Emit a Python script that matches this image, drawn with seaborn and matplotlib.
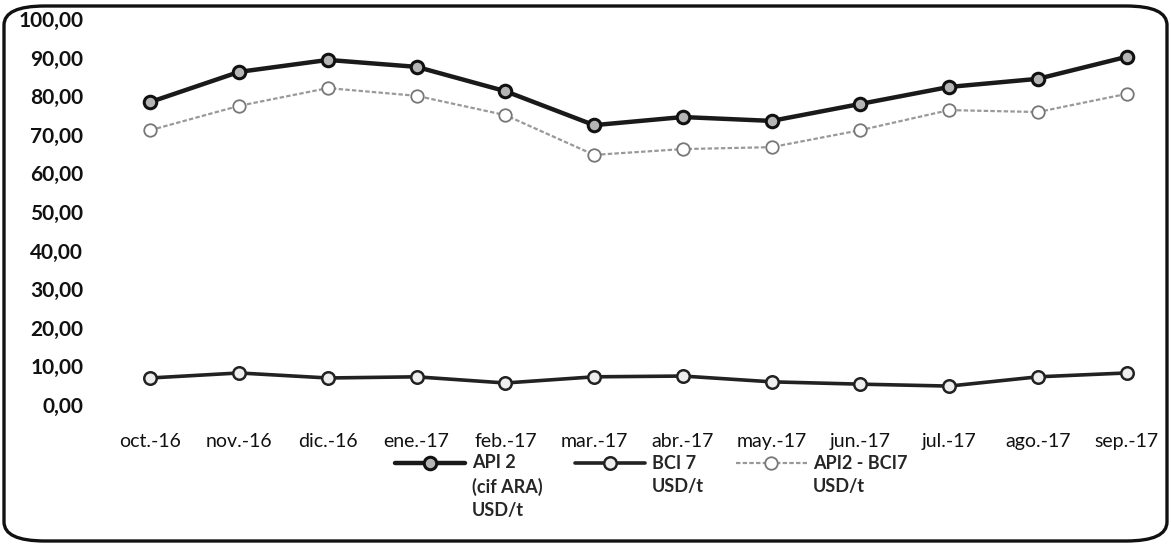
import numpy as np
import pandas as pd
import matplotlib
matplotlib.use("Agg")
import matplotlib.pyplot as plt
import seaborn as sns
from matplotlib.patches import FancyBboxPatch
from matplotlib.ticker import FuncFormatter

months = ["oct.-16", "nov.-16", "dic.-16", "ene.-17", "feb.-17", "mar.-17",
          "abr.-17", "may.-17", "jun.-17", "jul.-17", "ago.-17", "sep.-17"]
api2 = [78.5, 86.3, 89.4, 87.6, 81.3, 72.5, 74.6, 73.6, 78.0, 82.4, 84.5, 90.2]
bci7 = [7.0, 8.3, 7.0, 7.3, 5.7, 7.3, 7.5, 6.0, 5.4, 4.9, 7.3, 8.3]
spread = [71.2, 77.5, 82.1, 80.1, 75.1, 64.8, 66.3, 66.8, 71.2, 76.4, 75.9, 80.6]
labels = ["API 2\n(cif ARA)\nUSD/t", "BCI 7\nUSD/t", "API2 - BCI7\nUSD/t"]
yticks = [0, 10, 20, 30, 40, 50, 60, 70, 80, 90, 100]

sns.set_theme(style="white")
plt.rcParams['font.family'] = ['Lato', 'DejaVu Sans']

fig = plt.figure(figsize=(11.71, 5.45), dpi=100)
ax = fig.add_axes([106/1171, 1-405/545, 1-106/1171, (405-19)/545])

df = pd.DataFrame({"mes": months, "v": api2})
sns.lineplot(data=df, x="mes", y="v", ax=ax, sort=False, color="#1a1a1a", lw=3.2,
             marker="o", markersize=9, markerfacecolor="#b5b5b5",
             markeredgecolor="#111111", markeredgewidth=2.2, label=labels[0])
df = pd.DataFrame({"mes": months, "v": bci7})
sns.lineplot(data=df, x="mes", y="v", ax=ax, sort=False, color="#222222", lw=2.6,
             marker="o", markersize=9, markerfacecolor="#eeeeee",
             markeredgecolor="#222222", markeredgewidth=1.8, label=labels[1])
df = pd.DataFrame({"mes": months, "v": spread})
sns.lineplot(data=df, x="mes", y="v", ax=ax, sort=False, color="#999999", lw=1.6,
             linestyle=(0, (2, 1)), marker="o", markersize=9,
             markerfacecolor="white", markeredgecolor="#777777",
             markeredgewidth=1.3, label=labels[2])

ax.set_xlim(-0.5, 11.5)
ax.set_ylim(0, 100)
ax.set_yticks(yticks)
ax.yaxis.set_major_formatter(FuncFormatter(lambda v, p: f"{v:.2f}".replace(".", ",")))
for s in ax.spines.values():
    s.set_visible(False)
ax.set_xlabel("")
ax.set_ylabel("")
ax.tick_params(axis="y", labelsize=15, pad=16.5, length=0, colors="#111111")
ax.tick_params(axis="x", labelsize=14, pad=20, length=0, colors="#111111")
for t in ax.get_yticklabels():
    t.set_fontweight("bold")
ax.patch.set_alpha(0)

fs = 13
ls = 1.45
h, l = ax.get_legend_handles_labels()
ax.get_legend().remove()
nmax = max(s.count("\n") + 1 for s in l)
padded = [s + "\n " * (nmax - (s.count("\n") + 1)) for s in l]
leg = fig.legend(h, padded, loc="upper left", bbox_to_anchor=(386/1171, 1-445/545), ncol=3,
                 frameon=False, prop={"weight": "bold", "size": fs},
                 handlelength=3.9, columnspacing=1.8, handletextpad=0.35,
                 labelspacing=0.3, borderpad=0)
for t in leg.get_texts():
    t.set_linespacing(ls)
for hd in leg.legend_handles:
    y = np.asarray(hd.get_ydata(), dtype=float)
    hd.set_ydata(y + (nmax - 1) / 2 * ls * fs * 0.92)

border = FancyBboxPatch((4/1171, 4/545), 1-8/1171, 1-10/545,
                        boxstyle="round,pad=0,rounding_size=0.035",
                        transform=fig.transFigure, fill=False, lw=2.4, ec="#111111")
fig.patches.append(border)

fig.savefig("out.png", dpi=100)
